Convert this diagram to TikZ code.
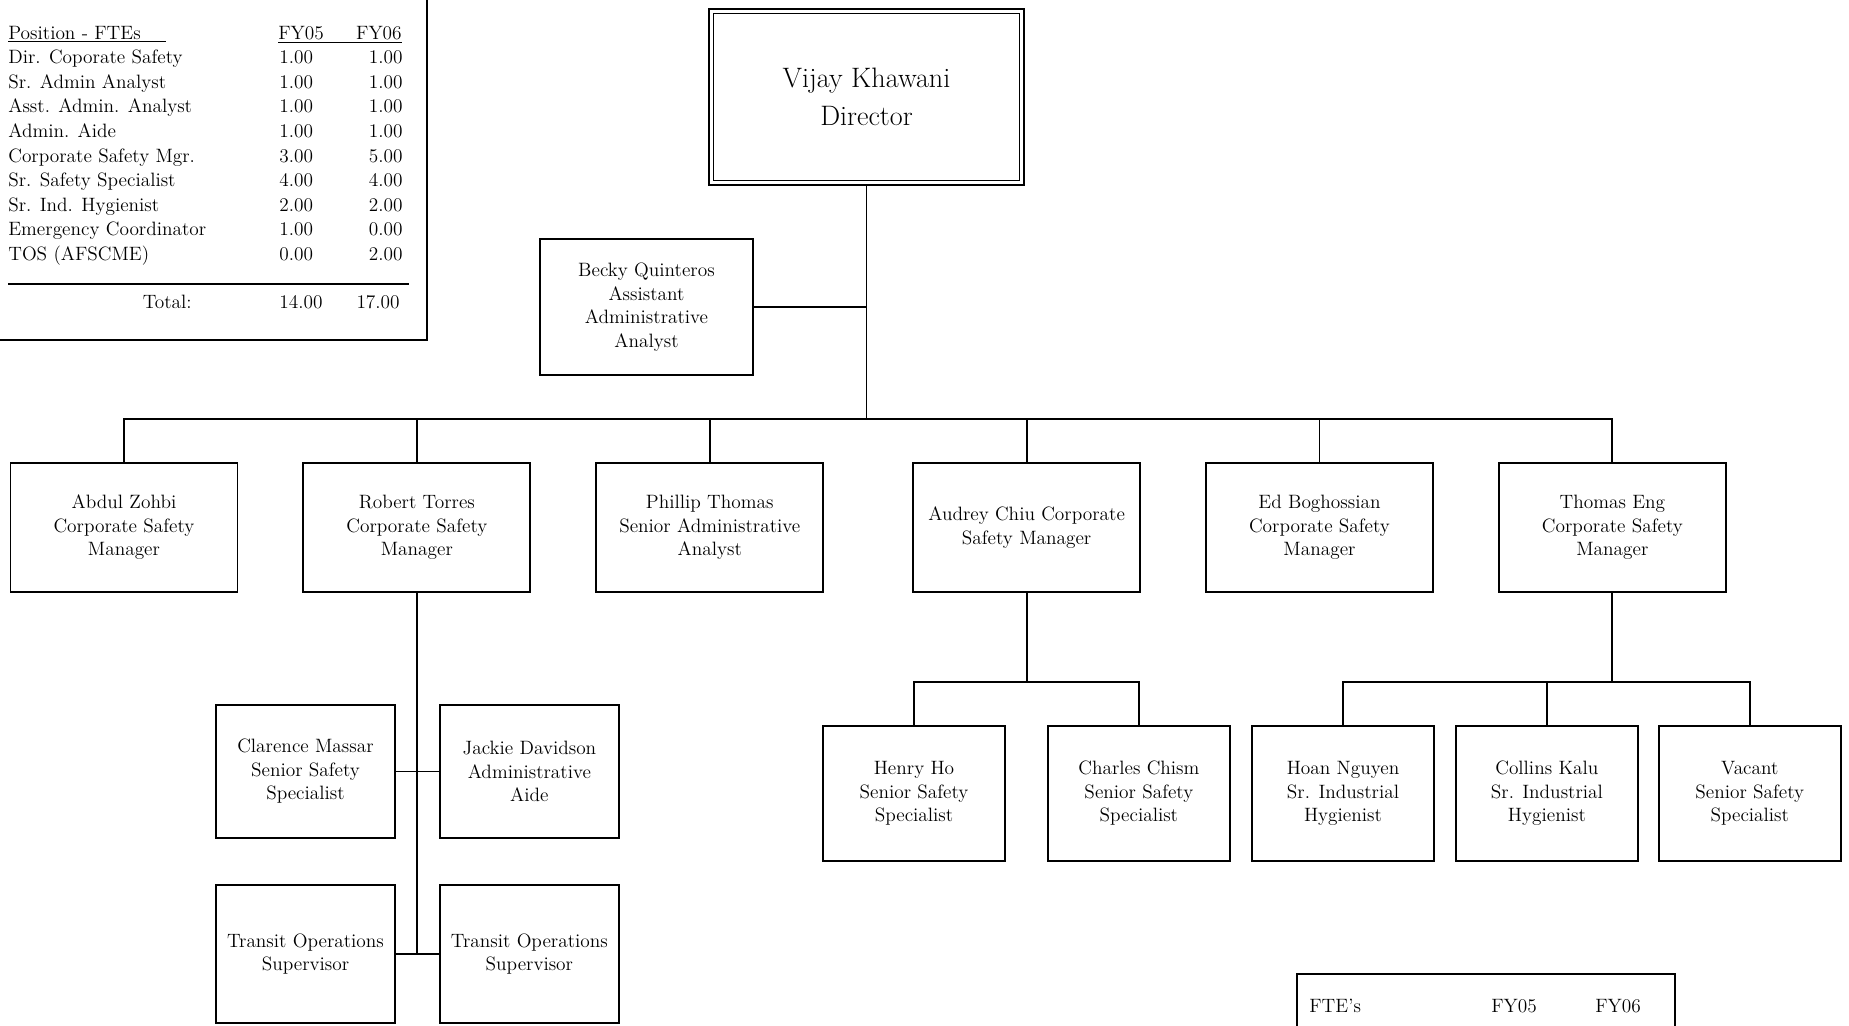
\documentclass[tikz,border=0pt]{standalone}
\usepackage{fontspec}
\usepackage{tikz}
\usetikzlibrary{positioning,calc}

\begin{document}
\begin{tikzpicture}[x=0.02cm, y=-0.02cm,
  box/.style={draw, line width=1.1pt, inner sep=0pt, align=center, font=\fontsize{11}{13.4}\selectfont},
  mgr/.style={box, minimum width=4.54cm, minimum height=2.58cm},
  staff/.style={box, minimum width=3.58cm, minimum height=2.66cm},
  spec/.style={box, minimum width=3.64cm, minimum height=2.7cm},
  link/.style={line width=1.1pt},
  fte/.style={inner sep=0pt, font=\fontsize{11}{13}\selectfont}]
  \useasboundingbox (0,0) rectangle (1849,1025);
  \clip (0,0) rectangle (1849,1025);

  \node[box, line width=1.6pt, minimum width=6.3cm, minimum height=3.52cm,
    font=\fontsize{16}{21.4}\selectfont] (dir) at (866.5,97) {Vijay Khawani\\Director};
  \draw[line width=0.7pt] ($(dir.south west)+(6,-6)$) rectangle ($(dir.north east)+(-6,6)$);
  \node[box, minimum width=4.26cm, minimum height=2.72cm] (becky) at (646.5,307)
    {Becky Quinteros\\Assistant\\Administrative\\Analyst};

  \node[mgr] (abdul) at (124,527.5) {Abdul Zohbi\\Corporate Safety\\Manager};
  \node[mgr, right=1.28cm of abdul] (robert) {Robert Torres\\Corporate Safety\\Manager};
  \node[mgr, right=1.28cm of robert] (phillip) {Phillip Thomas\\Senior Administrative\\Analyst};
  \node[mgr, right=1.76cm of phillip] (audrey) {Audrey Chiu Corporate\\Safety Manager};
  \node[mgr, right=1.28cm of audrey] (ed) {Ed Boghossian\\Corporate Safety\\Manager};
  \node[mgr, right=1.28cm of ed] (thomas) {Thomas Eng\\Corporate Safety\\Manager};

  \node[staff] (clarence) at (305.5,771.5) {Clarence Massar\\Senior Safety\\Specialist};
  \node[staff, right=0.86cm of clarence] (jackie) {Jackie Davidson\\Administrative\\Aide};
  \node[staff, minimum height=2.76cm, below=0.9cm of clarence] (tos1) {Transit Operations\\Supervisor};
  \node[staff, minimum height=2.76cm, right=0.86cm of tos1] (tos2) {Transit Operations\\Supervisor};

  \node[spec] (henry) at (914,793.5) {Henry Ho\\Senior Safety\\Specialist};
  \node[spec, right=0.82cm of henry] (charles) {Charles Chism\\Senior Safety\\Specialist};
  \node[spec] (hoan) at (1343,793.5) {Hoan Nguyen\\Sr. Industrial\\Hygienist};
  \node[spec, right=0.4cm of hoan] (collins) {Collins Kalu\\Sr. Industrial\\Hygienist};
  \node[spec, right=0.38cm of collins] (vacant) {Vacant\\Senior Safety\\Specialist};

  \coordinate (bar) at (dir.south |- 0,419);
  \draw[link] (dir) -- (bar);
  \draw[link] (becky) -- (becky -| dir);
  \draw[link] (abdul) |- (bar) -| (thomas);
  \foreach \m in {robert,phillip,audrey,ed} \draw[link] (\m) -- (\m |- bar);
  \draw[link] (robert) -- (robert |- tos1);
  \draw[link] (clarence) -- (jackie);
  \draw[link] (tos1) -- (tos2);
  \draw[link] (audrey.south) -- ++(0,89) coordinate (abar);
  \draw[link] (henry) |- (abar) -| (charles);
  \draw[link] (thomas.south) -- ++(0,89) coordinate (tbar);
  \draw[link] (hoan) |- (tbar) -| (vacant);
  \draw[link] (collins) -- (collins |- tbar);

  % FTE table, top left
  \draw[line width=1.1pt] (-5,-5) rectangle (427,340);
  \node[fte, anchor=base west] (hpos) at (8,39) {\underline{Position - FTEs\hspace{0.5cm}}};
  \node[fte, anchor=base west] (h05) at (278,39) {\underline{FY05\hspace{0.1cm}}};
  \node[fte, anchor=base east] (h06) at (402,39) {\underline{\hspace{0.55cm}FY06}};
  \foreach \p/\a/\b [count=\i] in {Dir. Coporate Safety/1.00/1.00, Sr. Admin Analyst/1.00/1.00,
      Asst. Admin. Analyst/1.00/1.00, Admin. Aide/1.00/1.00, Corporate Safety Mgr./3.00/5.00,
      Sr. Safety Specialist/4.00/4.00, Sr. Ind. Hygienist/2.00/2.00,
      Emergency Coordinator/1.00/0.00, TOS (AFSCME)/0.00/2.00} {
    \node[fte, anchor=base west] (p\i) at (8,{39+24.6*\i}) {\p};
    \node[fte, anchor=base west] (a\i) at (279,{39+24.6*\i}) {\a};
    \node[fte, anchor=base east] (b\i) at (403,{39+24.6*\i}) {\b};
  }
  \draw[line width=0.9pt] (8,284) -- (409,284);
  \node[fte, anchor=base east] (tot) at (192,308) {Total:};
  \node[fte, anchor=base west] (tot05) at (279,308) {14.00};
  \node[fte, anchor=base east] (tot06) at (400,308) {17.00};

  % FTE table, bottom right
  \draw[line width=1.1pt] (1297,1040) -- (1297,974) -- (1675,974) -- (1675,1040);
  \node[fte, anchor=base west] (fte) at (1309,1012) {FTE's};
  \node[fte, anchor=base west] (f05) at (1491,1012) {FY05};
  \node[fte, anchor=base west] (f06) at (1595,1012) {FY06};
\end{tikzpicture}
\end{document}
